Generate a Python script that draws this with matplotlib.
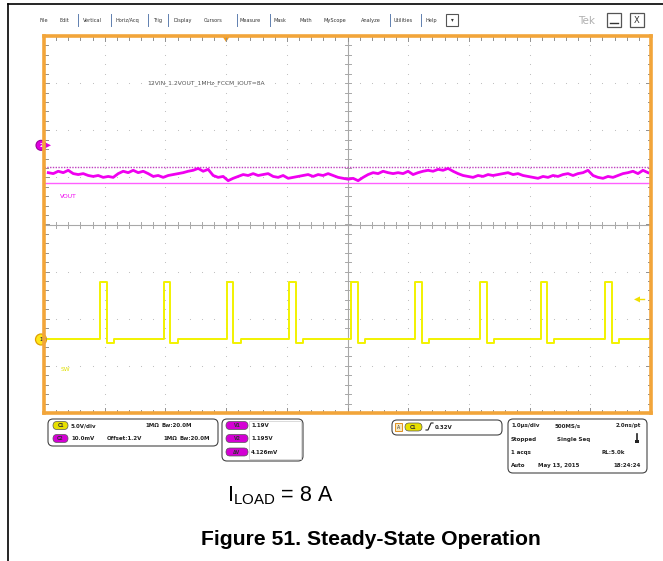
import numpy as np
import matplotlib
matplotlib.use("Agg")
import matplotlib.pyplot as plt
from matplotlib.patches import FancyBboxPatch, Circle, Rectangle, Polygon

# ---------------- data (screen divisions / microseconds) ----------------
vout_div = [1.10, 1.08, 1.13, 1.10, 1.15, 1.08,
            1.06, 1.08, 1.04, 1.02, 1.04, 1.00, 1.02, 1.00,
            1.08, 1.13, 1.10, 1.15, 1.10, 1.13, 1.08,
            1.02, 1.04, 1.00, 1.04, 1.06, 1.08, 1.10, 1.13,
            1.15, 1.19, 1.13, 1.17,
            1.04, 1.00, 1.02, 0.93, 0.98, 1.02,
            1.06, 1.04, 1.08, 1.04, 1.06, 1.08,
            1.02, 1.00, 1.04, 0.98, 1.00, 1.02,
            1.04, 1.06, 1.02, 1.06, 1.04, 1.08,
            1.04, 1.00, 0.98,
            0.96, 0.98, 0.93, 1.00,
            1.06, 1.10, 1.08, 1.13, 1.10, 1.08, 1.10,
            1.08, 1.13, 1.06, 1.10, 1.13, 1.15,
            1.13, 1.17, 1.15, 1.19, 1.13, 1.08,
            1.04, 1.02, 1.00, 1.04, 1.02, 1.06, 1.04, 1.06,
            1.08, 1.10, 1.06, 1.08, 1.04,
            1.02, 1.00, 0.98, 1.02, 1.00, 1.04, 1.02,
            1.06, 1.08, 1.04, 1.08, 1.10, 1.15,
            1.04, 1.00, 0.98, 1.02, 1.00, 1.04,
            1.08, 1.10, 1.13, 1.08, 1.15, 1.10]
vout_t_start, vout_t_end = 0.07, 9.95

sw_rise_us = [0.92, 1.97, 3.01, 4.04, 5.06, 6.12, 7.18, 8.18, 9.25]
sw_on_us = 0.11
sw_low_div = -2.44
sw_high_div = -1.23
sw_undershoot_div = 0.07

cursor_divs = [1.23, 0.89]
trig_pos_div = 3.0
trig_level_div = -1.59

menu_items = ["File", "Edit", "Vertical", "Horiz/Acq", "Trig", "Display", "Cursors",
              "Measure", "Mask", "Math", "MyScope", "Analyze", "Utilities", "Help"]
menu_x = [40, 60, 83, 115, 153, 173, 204, 240, 273, 300, 323, 361, 394, 426]
menu_sep = [78, 111, 148, 168, 237, 270, 390, 421]

ch_rows = [("C1", "#e8e000", "5.0V/div", "", "1MΩ", "Bw:20.0M"),
           ("C2", "#d400d4", "10.0mV", "Offset:1.2V", "1MΩ", "Bw:20.0M")]
cursor_labels = ["V1", "V2", "ΔV"]
cursor_values = ["1.19V", "1.195V", "4.126mV"]
trigger_text = "0.32V"
acq_rows = [("1.0µs/div", "500MS/s", "2.0ns/pt"),
            ("Stopped", "Single Seq", ""),
            ("1 acqs", "", "RL:5.0k"),
            ("Auto", "May 13, 2015", "18:24:24")]

caption = "Figure 51. Steady-State Operation"

# ---------------- figure ----------------
W, H = 663, 561
fig = plt.figure(figsize=(W / 100, H / 100), dpi=100)
bg = fig.add_axes([0, 0, 1, 1])
bg.set_xlim(0, W)
bg.set_ylim(H, 0)
bg.axis("off")

UI = "DejaVu Sans"
TXT = "Liberation Sans"

# page frame
bg.plot([8, W], [4, 4], color="black", lw=1.2)
bg.plot([8, 8], [4, H], color="black", lw=1.2)

# menu bar
for name, x in zip(menu_items, menu_x):
    bg.text(x, 20, name, fontsize=3.6, family=UI, color="#333333", va="center", ha="left")
for x in menu_sep:
    bg.plot([x, x], [14, 26], color="#6080b0", lw=0.7)
bg.add_patch(Rectangle((446, 14), 12, 12, fill=False, ec="#555555", lw=0.8))
bg.text(452, 20, "▾", fontsize=4, ha="center", va="center", color="#333333")
bg.text(587, 21, "Tek", fontsize=7.5, family=UI, color="#b0b0b0", ha="center", va="center")
bg.add_patch(Rectangle((607, 13), 14, 14, fill=False, ec="#555555", lw=0.9))
bg.plot([610, 618], [23, 23], color="#333333", lw=1.0)
bg.add_patch(Rectangle((630, 13), 14, 14, fill=False, ec="#555555", lw=0.9))
bg.text(637, 20.5, "X", fontsize=6, family=UI, ha="center", va="center", color="#333333")

# scope area
x0, y0, x1, y1 = 44, 36, 651, 413
ax = fig.add_axes([x0 / W, 1 - y1 / H, (x1 - x0) / W, (y1 - y0) / H])
ax.set_xlim(0, 10)
ax.set_ylim(-4, 4)
ax.set_xticks([])
ax.set_yticks([])
ax.patch.set_alpha(0)
for s in ax.spines.values():
    s.set_color("#f2a53a")
    s.set_linewidth(2.6)

pxx = 10 / (x1 - x0)
pxy = 8 / (y1 - y0)
gcol = "#b8b8b8"
# dotted grid
minor_x = np.arange(0.2, 10, 0.2)
minor_y = np.arange(-3.8, 4, 0.2)
for gx in range(1, 10):
    if gx != 5:
        ax.scatter(np.full(minor_y.size, gx), minor_y, s=0.6, color=gcol, lw=0)
for gy in range(-3, 4):
    if gy != 0:
        ax.scatter(minor_x, np.full(minor_x.size, gy), s=0.6, color=gcol, lw=0)
# centre cross with ticks
ax.plot([5, 5], [-4, 4], color="#a8a8a8", lw=0.8)
ax.plot([0, 10], [0, 0], color="#a8a8a8", lw=0.8)
for mx in minor_x:
    ax.plot([mx, mx], [-3 * pxy, 3 * pxy], color="#a8a8a8", lw=0.7)
for my in minor_y:
    ax.plot([5 - 3 * pxx, 5 + 3 * pxx], [my, my], color="#a8a8a8", lw=0.7)
# border ticks
for mx in minor_x:
    L = 5 if abs(mx - round(mx)) < 1e-6 else 3.5
    ax.plot([mx, mx], [4, 4 - L * pxy], color="#909090", lw=0.7)
    ax.plot([mx, mx], [-4, -4 + L * pxy], color="#909090", lw=0.7)
for my in minor_y:
    L = 5 if abs(my - round(my)) < 1e-6 else 3.5
    ax.plot([0, L * pxx], [my, my], color="#909090", lw=0.7)
    ax.plot([10, 10 - L * pxx], [my, my], color="#909090", lw=0.7)

# cursors
ax.plot([0, 10], [cursor_divs[0]] * 2, color="#c040c0", lw=1.0, ls=(0, (1, 1)))
ax.plot([0, 10], [cursor_divs[1]] * 2, color="#ff60ff", lw=1.0)

# VOUT trace
t_v = np.linspace(vout_t_start, vout_t_end, len(vout_div))
ax.plot(t_v, vout_div, color="#f000f0", lw=2.0)

# SW trace
ts, vs = [vout_t_start], [sw_low_div]
for r in sw_rise_us:
    f = r + sw_on_us
    ts += [r, r, f, f, f + 0.12, f + 0.12]
    vs += [sw_low_div, sw_high_div, sw_high_div, sw_low_div - sw_undershoot_div,
           sw_low_div - sw_undershoot_div, sw_low_div]
ts.append(vout_t_end)
vs.append(sw_low_div)
ax.plot(ts, vs, color="#f2f200", lw=1.4)

# labels inside scope
ax.text(1.7, 3.0, "12VIN_1.2VOUT_1MHz_FCCM_IOUT=8A", fontsize=4.3, family=UI,
        color="#555555", ha="left", va="center")
ax.text(0.27, 0.6, "VOUT", fontsize=4.3, family=UI, color="#f000f0", ha="left", va="center")
ax.text(0.27, -3.07, "SW", fontsize=4.3, family=UI, color="#e0e000", ha="left", va="center")

# trigger markers
tx = x0 + trig_pos_div / pxx
bg.add_patch(Polygon([[tx - 4, 36], [tx + 4, 36], [tx, 42]], closed=True,
                     fc="#f29a1a", ec="none", zorder=5))
ly = (y0 + y1) / 2 - trig_level_div / pxy
bg.add_patch(Polygon([[634, ly], [640, ly - 3], [640, ly + 3]], closed=True,
                     fc="#f0e000", ec="none", zorder=5))
bg.plot([640, 644], [ly, ly], color="#f0e000", lw=1)

# channel markers (left)
yc2 = (y0 + y1) / 2 - 1.68 / pxy
bg.add_patch(Circle((41, yc2), 5, fc="#e000e0", ec="#9a009a", lw=0.8, zorder=6))
bg.text(41, yc2, "2", fontsize=4, color="white", ha="center", va="center", zorder=7, weight="bold")
bg.add_patch(Polygon([[46, yc2 - 2.5], [51, yc2], [46, yc2 + 2.5]], fc="#e000e0", ec="none", zorder=6))
yc1 = (y0 + y1) / 2 - sw_low_div / pxy
bg.add_patch(Circle((41, yc1), 5.5, fc="#ffe81a", ec="#e0a000", lw=0.9, zorder=6))
bg.text(41, yc1, "1", fontsize=4, color="#333333", ha="center", va="center", zorder=7, weight="bold")


def pill(x, y, w, h, fc, label):
    bg.add_patch(FancyBboxPatch((x, y - h / 2), w, h, boxstyle="round,pad=0,rounding_size=4",
                                fc=fc, ec="#555555", lw=0.5))
    bg.text(x + w / 2, y, label, fontsize=3.3, family=UI, ha="center", va="center",
            color="#333333", weight="bold")


def box(x, y, w, h):
    bg.add_patch(FancyBboxPatch((x, y), w, h, boxstyle="round,pad=0,rounding_size=5",
                                fc="none", ec="#444444", lw=0.8))


small = dict(fontsize=4.0, family=UI, weight="bold", color="#222222", va="center")

# panel 1: channels
box(48, 419, 170, 27)
rows_y = [425.5, 438.5]
for (lab, col, a, b, c, d), yy, cx in zip(ch_rows, rows_y, [145, 163]):
    pill(53, yy, 15, 8, col, lab)
    bg.text(71, yy, a, ha="left", **small)
    if b:
        bg.text(107, yy, b, ha="left", **small)
    bg.text(cx, yy, c, ha="left", **small)
    bg.text(cx + 16, yy, d, ha="left", **small)

# panel 2: cursors
box(222, 419, 81, 42)
bg.add_patch(Rectangle((249, 421), 52, 38, fc="white", ec="#cccccc", lw=0.5))
for lab, val, yy in zip(cursor_labels, cursor_values, [425.5, 438.5, 452]):
    pill(226, yy, 22, 8, "#d400d4", lab)
    bg.text(251, yy, val, ha="left", **small)

# panel 3: trigger
box(392, 420, 110, 15)
bg.add_patch(Rectangle((395, 423), 7, 8, fc="#f6e8c0", ec="#e09020", lw=0.7))
bg.text(398.5, 427, "A", fontsize=3.3, family=UI, ha="center", va="center", color="#333333")
pill(405, 427, 17, 8, "#e8e000", "C1")
bg.plot([426, 428, 431, 433], [430, 430, 423, 423], color="#222222", lw=0.8)
bg.text(435, 427, trigger_text, ha="left", **small)

# panel 4: acquisition
box(508, 419, 139, 54)
for (a, b, c), yy in zip(acq_rows, [425.5, 439, 452, 465.5]):
    bg.text(511, yy, a, ha="left", **small)
    if b:
        bg.text(555 if yy < 430 else (557 if yy < 445 else 538), yy, b, ha="left", **small)
    if c:
        bg.text(641 if c != "RL:5.0k" else 625, yy, c, ha="right", **small)
bg.plot([637, 637], [434, 441], color="#222222", lw=1.2)
bg.add_patch(Rectangle((635.3, 440), 3.4, 3, fc="#222222", ec="none"))

# annotations below
bg.text(227, 501, r"$\mathregular{I_{LOAD}}$ = 8 A", fontsize=15.5, family=TXT,
        ha="left", va="baseline", color="black")
bg.text(371, 545, caption, fontsize=15.2, family=TXT, weight="bold",
        ha="center", va="baseline", color="black")

fig.savefig("out.png", dpi=100)
